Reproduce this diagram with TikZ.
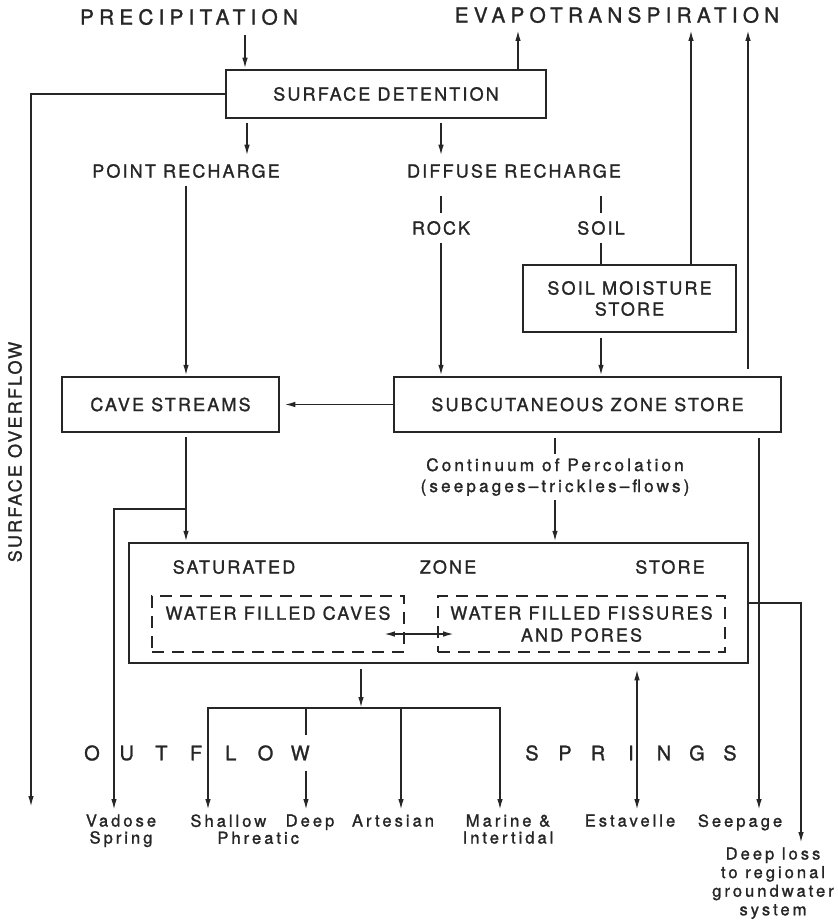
\documentclass[tikz,border=0pt]{standalone}
\usepackage{fontspec}
\setmainfont{TeX Gyre Heros}[LetterSpace=12,FakeBold=1.3]
\newfontfamily\headfont{TeX Gyre Heros}[LetterSpace=25,FakeBold=1.3]
\newfontfamily\tagfont{TeX Gyre Heros}[LetterSpace=18,FakeBold=1.3]
\usepackage{tikz}
\usetikzlibrary{arrows.meta,calc}

\begin{document}
\begin{tikzpicture}[x=0.5pt,y=-0.5pt,color=black!85]

	\tikzstyle store=[draw, line width=1.25pt, inner sep=0pt, align=center, font=\fontsize{9}{10.5}\selectfont];
	\tikzstyle pocket=[draw, line width=0.9pt, dash pattern=on 6pt off 4pt, inner sep=0pt, align=center, font=\fontsize{9}{11}\selectfont];
	\tikzstyle heading=[font=\headfont\fontsize{10.4}{12}\selectfont, inner sep=3pt];
	\tikzstyle caps=[font=\fontsize{9}{10.5}\selectfont, inner sep=4pt, align=center];
	\tikzstyle tag=[font=\tagfont\fontsize{8.3}{8.5}\selectfont, inner sep=2pt, align=center];
	\tikzstyle spaced=[font=\fontsize{10}{12}\selectfont, inner sep=5pt];
	\tikzstyle flow=[line width=0.85pt, -{Latex[length=5.5pt,width=2.8pt]}];
	\tikzstyle two way=[line width=0.85pt, {Latex[length=5.5pt,width=2.8pt]}-{Latex[length=5.5pt,width=2.8pt]}];
	\tikzstyle tie=[line width=0.85pt];

	\useasboundingbox (0,0) rectangle (838,920);

	% inputs and losses at the top
	\node[heading] (prec) at (189,17) {PRECIPITATION};
	\node[heading] (evap) at (617,15) {EVAPOTRANSPIRATION};

	\node[store, minimum width=160pt, minimum height=24pt] (sd) at (386,94) {SURFACE DETENTION};
	\node[caps] (ptr) at (186,171) {POINT RECHARGE};
	\node[caps] (dfr) at (514,171) {DIFFUSE RECHARGE};
	\node[caps] (rock) at (441,228) {ROCK};
	\node[caps] (soil) at (601,228) {SOIL};
	\node[store, minimum width=106.5pt, minimum height=33.5pt] (sms) at (629.5,298.5) {SOIL MOISTURE\\STORE};

	\node[store, minimum width=108.5pt, minimum height=27.5pt] (cave) at (170.5,404.5) {CAVE STREAMS};
	\node[store, minimum width=193.5pt, minimum height=27.5pt] (szs) at (587.5,404.5) {SUBCUTANEOUS ZONE STORE};
	\node[tag, font=\tagfont\fontsize{8.6}{10.5}\selectfont] (perc) at (555,477) {Continuum of Percolation\\(seepages\textendash trickles\textendash flows)};

	\node[caps, rotate=90] (overflow) at (15,452) {SURFACE OVERFLOW};

	% saturated zone with its two kinds of voids
	\node[store, minimum width=309.5pt, minimum height=60pt] (sat) at (438.5,603) {};
	\node[caps] (satw) at (234,567) {SATURATED};
	\node[caps] (zonew) at (448,567) {ZONE};
	\node[caps] (storew) at (670,567) {STORE};
	\node[pocket, minimum width=126pt, minimum height=28pt] (caves) at (278,624) {WATER FILLED CAVES\\\mbox{}};
	\node[pocket, minimum width=143.5pt, minimum height=28pt] (fiss) at (581.5,624) {WATER FILLED FISSURES\\AND PORES};

	% outflow springs
	\foreach \c [count=\i] in {O,U,T,F,L,O,W}
		\node[spaced] (out\i) at ({57.3+34.7*\i},753) {\c};
	\foreach \c [count=\i] in {S,P,R,I,N,G,S}
		\node[spaced] (spr\i) at ({499+33*\i},753) {\c};

	\node[tag, anchor=north] (vadose) at (121,810) {Vadose\\Spring};
	\node[tag, anchor=north west, align=left] (shallow) at (186,810) {Shallow\\\hspace*{13.5pt}Phreatic};
	\node[tag, anchor=north] (deep) at (310,810) {Deep};
	\node[tag, anchor=north] (artesian) at (393,810) {Artesian};
	\node[tag, anchor=north] (marine) at (508,810) {Marine \&\\Intertidal};
	\node[tag, anchor=north] (estavelle) at (630,810) {Estavelle};
	\node[tag, anchor=north] (seepage) at (740,810) {Seepage};
	\node[tag, anchor=north, font=\tagfont\fontsize{8.3}{9.3}\selectfont] (loss) at (773,843) {Deep loss\\to regional\\groundwater\\system};

	% points where connectors leave or join
	\coordinate (p-drop) at (245,35);
	\coordinate (sd-pt) at (247,0);
	\coordinate (et-top) at (518,30);
	\coordinate (et-soil) at (691,30);
	\coordinate (et-sub) at (748,30);
	\coordinate (so-end) at (31,807);
	\coordinate (v-tap) at (186,509);
	\coordinate (v-drop) at (114,509);
	\coordinate (fan) at (361,708);
	\coordinate (j-shal) at (208,708);
	\coordinate (j-deep) at (306,708);
	\coordinate (j-art) at (401,708);
	\coordinate (j-mar) at (500,708);
	\coordinate (j-est) at (637,708);
	\coordinate (j-seep) at (759,708);
	\coordinate (j-loss) at (801,603);

	\draw[flow] (p-drop) -- (p-drop |- sd.north);
	\draw[flow] (et-top |- sd.north) -- (et-top);
	\draw[flow] (sd.west) -| (so-end);
	\draw[flow, shorten <=2pt] (sd.south -| sd-pt) -- (sd-pt |- ptr.north);
	\draw[flow, shorten <=2pt] (sd.south -| rock) -- (rock |- dfr.north);

	\draw[tie, shorten <=5pt] (dfr.south -| rock) -- (rock.north);
	\draw[tie, shorten <=5pt] (dfr.south -| soil) -- (soil.north);
	\draw[tie] (soil.south) -- (soil.south |- sms.north);
	\draw[flow] (rock.south) -- (rock.south |- szs.north);
	\draw[flow] (ptr.south) -- (ptr.south |- cave.north);
	\draw[flow, shorten <=2.5pt] (soil.south |- sms.south) -- (soil.south |- szs.north);
	\draw[flow] (et-soil |- sms.north) -- (et-soil);
	\draw[flow, shorten <=3.5pt] (et-sub |- szs.north) -- (et-sub);
	\draw[flow, shorten >=2pt] (szs.west) -- (cave.east);

	\draw[tie, shorten <=2.5pt] (szs.south -| perc) -- (perc.north);
	\draw[flow] (perc.south) -- (perc.south |- sat.north);
	\draw[flow, shorten <=2pt] (cave.south -| ptr.south) -- (ptr.south |- sat.north);
	\draw[flow] (v-tap) -- (v-drop) -- (v-drop |- vadose.north);

	\draw[two way] ($(caves.east)+(-21,10)$) -- ($(fiss.west)+(17,10)$);

	\draw[flow, shorten <=2.5pt] (sat.south -| fan) -- (fan);
	\draw[flow] (fan) -- (j-shal) -- (j-shal |- shallow.north);
	\draw[flow] (fan) -- (j-mar) -- (j-mar |- marine.north);
	\draw[tie] (j-deep) -- (j-deep |- out7.north);
	\draw[flow] (j-deep |- out7.south) -- (j-deep |- deep.north);
	\draw[flow] (j-art) -- (j-art |- artesian.north);
	\draw[two way, shorten <=2.5pt] (sat.south -| j-est) -- (j-est |- estavelle.north);
	\draw[flow, shorten <=2.5pt] (szs.south -| j-seep) -- (j-seep |- seepage.north);
	\draw[flow] (sat.east |- j-loss) -- (j-loss) -- (j-loss |- loss.north);

\end{tikzpicture}
\end{document}
